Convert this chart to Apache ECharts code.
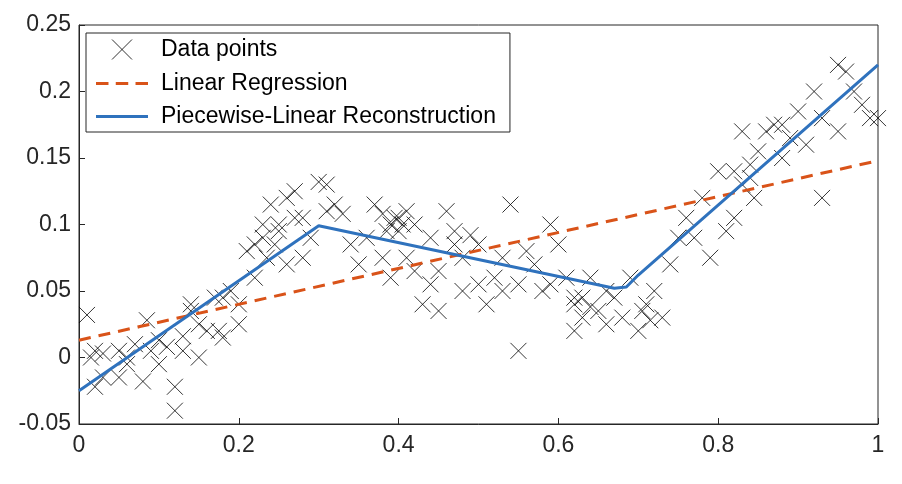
<!DOCTYPE html>
<html><head><meta charset="utf-8">
<script src="https://cdn.jsdelivr.net/npm/echarts@6/dist/echarts.min.js"></script>
<style>body{margin:0;background:#fff}#c{width:902px;height:484px}</style>
</head><body><div id="c"></div>
<script>
let dataPoints = [
  [0.01,0.032],[0.015,0.0],[0.02,0.005],[0.02,-0.022],[0.03,0.003],[0.03,-0.015],[0.05,-0.015],[0.05,0.005],
  [0.06,0.0],[0.07,0.01],[0.08,-0.018],[0.085,0.028],[0.09,0.005],[0.1,-0.005],[0.1,0.013],[0.11,0.008],
  [0.12,-0.04],[0.12,-0.022],[0.13,0.016],[0.14,0.04],[0.15,0.025],[0.15,0.0],[0.16,0.02],[0.17,0.045],
  [0.175,0.02],[0.18,0.015],[0.19,0.05],[0.2,0.04],[0.2,0.025],[0.21,0.08],[0.22,0.06],[0.23,0.09],
  [0.235,0.075],[0.24,0.115],[0.245,0.085],[0.25,0.1],[0.26,0.07],[0.26,0.12],[0.27,0.125],[0.28,0.105],
  [0.28,0.075],[0.29,0.09],[0.3,0.132],[0.31,0.13],[0.31,0.11],[0.32,0.115],[0.33,0.108],
  [0.14,0.035],[0.18,0.045],[0.22,0.085],[0.25,0.095],[0.27,0.105],[0.23,0.1],[0.06,-0.005],[0.13,0.005],
  [0.34,0.085],[0.35,0.07],[0.36,0.09],[0.37,0.115],[0.38,0.108],[0.38,0.075],[0.39,0.1],[0.39,0.06],
  [0.40,0.105],[0.40,0.095],[0.41,0.11],[0.41,0.075],[0.42,0.1],[0.42,0.065],[0.43,0.04],[0.44,0.055],
  [0.45,0.065],[0.45,0.035],[0.46,0.11],[0.47,0.085],[0.48,0.075],[0.48,0.05],[0.49,0.092],[0.50,0.085],
  [0.50,0.055],[0.51,0.04],[0.52,0.06],[0.53,0.05],[0.53,0.075],[0.54,0.115],[0.55,0.005],[0.55,0.055],
  [0.56,0.08],[0.57,0.07],[0.58,0.05],[0.59,0.1],[0.59,0.055],[0.60,0.085],[0.61,0.06],[0.62,0.04],
  [0.62,0.02],[0.63,0.045],[0.63,0.03],[0.64,0.06],[0.65,0.035],[0.66,0.025],[0.67,0.045],[0.68,0.03],
  [0.395,0.105],[0.405,0.1],[0.385,0.095],[0.44,0.09],[0.47,0.095],[0.62,0.045],[0.64,0.038],[0.66,0.05],
  [0.69,0.06],[0.70,0.02],[0.71,0.04],[0.72,0.05],[0.73,0.03],[0.74,0.07],[0.75,0.09],[0.76,0.105],
  [0.77,0.09],[0.78,0.12],[0.79,0.075],[0.80,0.14],[0.81,0.095],[0.82,0.105],[0.83,0.17],[0.83,0.13],
  [0.84,0.145],[0.845,0.12],[0.85,0.155],[0.86,0.17],[0.87,0.175],[0.88,0.15],[0.89,0.165],[0.90,0.185],
  [0.91,0.16],[0.92,0.2],[0.93,0.12],[0.93,0.18],[0.95,0.22],[0.95,0.17],[0.96,0.215],[0.97,0.2],
  [0.98,0.19],[0.99,0.18],[1.0,0.18],[0.705,0.035],[0.715,0.028],[0.82,0.14],[0.84,0.135],[0.88,0.175]
];
let linearReg = [[0,0.013],[1,0.148]];
let piecewise = [[0,-0.025],[0.3,0.099],[0.67,0.052],[0.685,0.053],[0.70,0.062],[1,0.22]];

let cross = 'path://M0,0L10,10M10,0L0,10';
let solidIcon = 'path://M0,0h50v3h-50z';
let dashIcon = 'path://M0,0h12v3h-12zM19,0h12v3h-12zM38,0h12v3h-12z';
let font = 'Liberation Sans';
let axisCommon = {
  axisLine: {onZero: false, lineStyle: {color: '#262626', width: 1}},
  axisTick: {inside: true, length: 6, lineStyle: {color: '#262626'}},
  splitLine: {show: false}
};
var chart = echarts.init(document.getElementById('c'));
chart.setOption({
  animation: false,
  textStyle: {fontFamily: font},
  grid: {left: 79, right: 24, top: 25, bottom: 60, show: true, borderColor: '#262626', borderWidth: 1},
  legend: {
    left: 86, top: 33, orient: 'vertical', itemGap: 10, itemWidth: 52, itemHeight: 20,
    padding: [4, 14, 4, 10], borderColor: '#262626', borderWidth: 1, backgroundColor: '#fff',
    textStyle: {fontSize: 23, color: '#000', fontFamily: font, padding: [0, 0, 0, 8]},
    data: [
      {name: 'Data points', icon: cross, itemStyle: {color: 'none', borderColor: '#000', borderWidth: 1}},
      {name: 'Linear Regression', icon: dashIcon, itemStyle: {color: '#d95319', borderWidth: 0}},
      {name: 'Piecewise-Linear Reconstruction', icon: solidIcon, itemStyle: {color: '#2f72bd', borderWidth: 0}}
    ]
  },
  xAxis: Object.assign({type: 'value', min: 0, max: 1, interval: 0.2,
    axisLabel: {fontSize: 23, color: '#262626', margin: 10, formatter: v => String(+v.toFixed(1))}}, axisCommon),
  yAxis: Object.assign({type: 'value', min: -0.05, max: 0.25, interval: 0.05,
    axisLabel: {fontSize: 23, color: '#262626', margin: 8, formatter: v => String(+v.toFixed(2))}}, axisCommon),
  series: [
    {name: 'Data points', type: 'scatter', data: dataPoints, symbol: cross, symbolSize: 16,
      itemStyle: {color: 'none', borderColor: '#000', borderWidth: 1}},
    {name: 'Linear Regression', type: 'line', data: linearReg, showSymbol: false, symbol: 'none',
      lineStyle: {color: '#d95319', width: 3, type: [12, 8]}, itemStyle: {color: '#d95319'}},
    {name: 'Piecewise-Linear Reconstruction', type: 'line', data: piecewise, showSymbol: false, symbol: 'none',
      lineStyle: {color: '#2f72bd', width: 3}, itemStyle: {color: '#2f72bd'}}
  ]
});
</script></body></html>
